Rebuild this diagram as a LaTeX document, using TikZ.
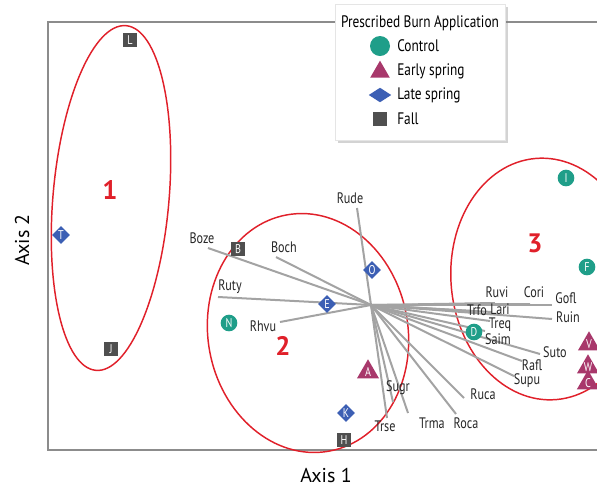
\documentclass[tikz,border=0pt]{standalone}
\usepackage{fontspec}
\setmainfont{PT Sans}
\newfontfamily\narrowsans{PT Sans}[FakeStretch=0.8]
\usetikzlibrary{shapes.geometric}
\usetikzlibrary{shadows}
\usetikzlibrary{positioning}

\definecolor{ctrlteal}{HTML}{1F9E89}
\definecolor{earlymag}{HTML}{A8386B}
\definecolor{lateblue}{HTML}{3C5FB4}
\definecolor{fallgray}{HTML}{4F4F4F}
\definecolor{hullred}{HTML}{E0202A}
\definecolor{vecgray}{HTML}{A3A3A3}

\newcommand{\mkfont}{\fontsize{9.5}{9.5}\selectfont\narrowsans}
\newcommand{\spfont}{\fontsize{11.4}{12}\selectfont\narrowsans}

\tikzset{
  control/.style={circle, fill=ctrlteal, minimum size=12.5pt,
    inner sep=0pt, text=white, font=\mkfont},
  early/.style={regular polygon, regular polygon sides=3, fill=earlymag,
    minimum size=16pt, inner sep=0pt, text=white, font=\mkfont},
  late/.style={diamond, fill=lateblue, minimum size=13.5pt,
    inner sep=0pt, text=white, font=\mkfont},
  fall/.style={rectangle, fill=fallgray, minimum size=10.5pt,
    inner sep=0pt, text=white, font=\mkfont},
  species/.style={font=\spfont, inner sep=0pt, text=black!85},
  groupno/.style={text=hullred, font=\fontsize{20}{20}\selectfont\bfseries},
  hull/.style={draw=hullred, line width=1.1pt},
  vec/.style={draw=vecgray, line width=1.5pt}
}

\begin{document}
\begin{tikzpicture}[x=0.75pt, y=-0.75pt,
      frame/.style={draw=black!45, line width=1.1pt},
      legtext/.style={font=\fontsize{12.5}{13}\selectfont\narrowsans, anchor=west, inner sep=0pt}]

    \useasboundingbox (0,0) rectangle (597,487);
    \clip (0,0) rectangle (597,487);

    % plot frame and axis titles
    \draw[frame] (600,22) -- (48,22) -- (48,450) -- (600,450);
    \node[font=\fontsize{15}{15}\selectfont] (xaxis) at (326,475) {Axis 1};
    \node[font=\fontsize{15}{15}\selectfont, rotate=90] (yaxis) at (22,240) {Axis 2};

    % groups
    \draw[hull, rotate around={-5:(111,198)}] (111,198) ellipse [x radius=58, y radius=173];
    \draw[hull, rotate around={10:(308,333)}] (308,333) ellipse [x radius=100, y radius=120];
    \draw[hull, rotate around={5:(546,279)}] (546,279) ellipse [x radius=95, y radius=121];
    \node[groupno] (g1) at (110,190) {1};
    \node[groupno] (g2) at (283,346) {2};
    \node[groupno] (g3) at (535,243) {3};

    % species vectors
    \coordinate (o) at (371,305);
    \coordinate (rude) at (357,208);
    \coordinate (boze) at (208,248);
    \coordinate (boch) at (276,257);
    \coordinate (ruty) at (218,297);
    \coordinate (rhvu) at (280,322);
    \coordinate (ruvi) at (495,303);
    \coordinate (cori) at (530,304);
    \coordinate (gofl) at (552,305);
    \coordinate (trfo) at (470,311);
    \coordinate (lari) at (492,312);
    \coordinate (ruin) at (552,319);
    \coordinate (treq) at (490,321);
    \coordinate (saim) at (485,331);
    \coordinate (suto) at (540,354);
    \coordinate (rafl) at (522,361);
    \coordinate (supu) at (514,376);
    \coordinate (ruca) at (464,398);
    \coordinate (roca) at (456,414);
    \coordinate (trma) at (408,413);
    \coordinate (sugr) at (393,402);
    \coordinate (trse) at (387,418);

    \path[vec]
      (o) edge (rude)
      (o) edge (boze)
      (o) edge (boch)
      (o) edge (ruty)
      (o) edge (rhvu)
      (o) edge (ruvi)
      (o) edge (cori)
      (o) edge (gofl)
      (o) edge (trfo)
      (o) edge (lari)
      (o) edge (ruin)
      (o) edge (treq)
      (o) edge (saim)
      (o) edge (suto)
      (o) edge (rafl)
      (o) edge (supu)
      (o) edge (ruca)
      (o) edge (roca)
      (o) edge (trma)
      (o) edge (sugr)
      (o) edge (trse);

    \node[species] (Rude) at (350,198) {Rude};
    \node[species] (Boze) at (202,238) {Boze};
    \node[species] (Boch) at (284,247) {Boch};
    \node[species] (Ruty) at (230,287) {Ruty};
    \node[species] (Rhvu) at (263,326) {Rhvu};
    \node[species] (Ruvi) at (497,292) {Ruvi};
    \node[species] (Cori) at (534,292) {Cori};
    \node[species] (Gofl) at (566,298) {Gofl};
    \node[species] (Trfo) at (477,310) {Trfo};
    \node[species] (Lari) at (500,309) {Lari};
    \node[species] (Ruin) at (568,317) {Ruin};
    \node[species] (Treq) at (500,325) {Treq};
    \node[species] (Saim) at (498,339) {Saim};
    \node[species] (Suto) at (555,352) {Suto};
    \node[species] (Rafl) at (532,365) {Rafl};
    \node[species] (Supu) at (527,381) {Supu};
    \node[species] (Ruca) at (483,394) {Ruca};
    \node[species] (Roca) at (466,423) {Roca};
    \node[species] (Trma) at (432,423) {Trma};
    \node[species] (Sugr) at (398,388) {Sugr};
    \node[species] (Trse) at (385,426) {Trse};

    % sites
    \node[fall] (L) at (130,40) {L};
    \node[late] (T) at (61,235) {T};
    \node[fall] (J) at (111,349) {J};
    \node[fall] (B) at (238,249) {B};
    \node[late] (O) at (372,270) {O};
    \node[late] (E) at (327,304) {E};
    \node[control] (N) at (229,323) {N};
    \node[early] (A) at (368,372) {A};
    \node[late] (K) at (346,413) {K};
    \node[fall] (H) at (344,440) {H};
    \node[control] (I) at (566,178) {I};
    \node[control] (F) at (587,267) {F};
    \node[control] (D) at (474,332) {D};
    \node[early] (V) at (589,344) {V};
    \node[early] (W) at (588,367) {W};
    \node[early] (C) at (588,383) {C};

    % legend
    \path[fill=white, draw=black!10, drop shadow={shadow xshift=2pt, shadow yshift=-2pt, opacity=0.35}]
      (335,4) rectangle (505,140);
    \node[font=\fontsize{12.5}{13}\selectfont\narrowsans] (legtitle) at (420,23) {Prescribed Burn Application};
    \node[control, minimum size=15pt] (legctrl) at (380,46) {};
    \node[early, minimum size=17pt] (legearly) at (380,72) {};
    \node[late, minimum width=17pt, minimum height=11pt] (leglate) at (380,95) {};
    \node[fall, minimum size=11pt] (legfall) at (380,119) {};
    \node[legtext] at (397,46) {Control};
    \node[legtext] at (397,71) {Early spring};
    \node[legtext] at (397,95) {Late spring};
    \node[legtext] at (397,119) {Fall};

  \end{tikzpicture}
\end{document}
